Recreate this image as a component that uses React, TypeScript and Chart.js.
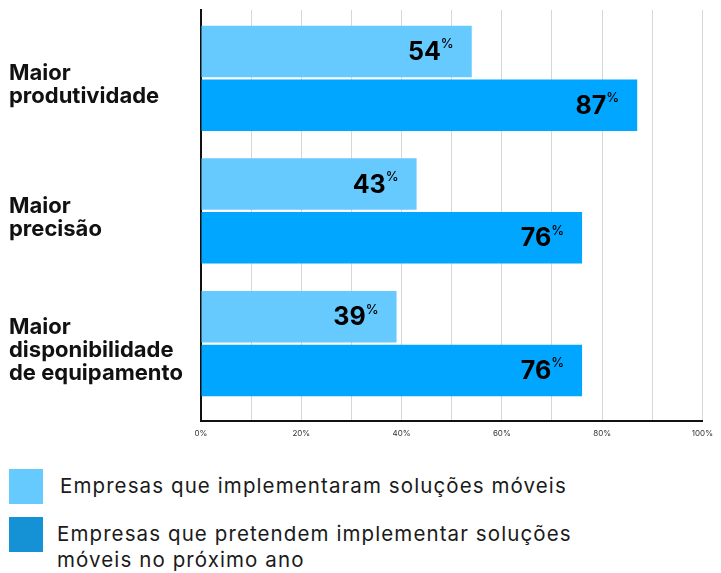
import React, { useEffect, useRef } from "react";
import { Chart, registerables } from "chart.js";

Chart.register(...registerables);

const categories: string[][] = [
  ["Maior", "produtividade"],
  ["Maior", "precisão"],
  ["Maior", "disponibilidade", "de equipamento"],
];
const implemented: number[] = [54, 43, 39];
const planned: number[] = [87, 76, 76];
const seriesNames: string[] = [
  "Empresas que implementaram soluções móveis",
  "Empresas que pretendem implementar soluções móveis no próximo ano",
];
const legendLines: string[][] = [
  ["Empresas que implementaram soluções móveis"],
  ["Empresas que pretendem implementar soluções", "móveis no próximo ano"],
];
const barColors = ["#66CAFF", "#00A6FF"];
const legendColors = ["#66CAFF", "#1592D6"];

const FONT = "Inter, 'Open Sans', sans-serif";

const valueLabels = {
  id: "valueLabels",
  afterDatasetsDraw(chart: any) {
    const ctx = chart.ctx;
    chart.data.datasets.forEach((ds: any, di: number) => {
      const meta = chart.getDatasetMeta(di);
      meta.data.forEach((bar: any, i: number) => {
        const v = ds.data[i].x;
        const num = String(v);
        ctx.save();
        ctx.fillStyle = "#000";
        ctx.textBaseline = "middle";
        ctx.textAlign = "right";
        ctx.font = `500 13px ${FONT}`;
        const pctW = ctx.measureText("%").width;
        const right = bar.x - 18;
        ctx.fillText("%", right, bar.y - 7);
        ctx.font = `700 25px ${FONT}`;
        ctx.fillText(num, right - pctW, bar.y + 1);
        ctx.restore();
      });
    });
  },
};

export default function App() {
  const canvasRef = useRef<HTMLCanvasElement | null>(null);

  useEffect(() => {
    if (!canvasRef.current) return;
    const chart = new Chart(canvasRef.current, {
      type: "bar",
      data: {
        datasets: [
          {
            label: seriesNames[0],
            data: implemented.map((v, i) => ({ x: v, y: i })) as any,
            backgroundColor: barColors[0],
          },
          {
            label: seriesNames[1],
            data: planned.map((v, i) => ({ x: v, y: i })) as any,
            backgroundColor: barColors[1],
          },
        ],
      },
      options: {
        indexAxis: "y",
        animation: false,
        responsive: true,
        maintainAspectRatio: false,
        layout: { padding: { left: 1, top: 2, right: 15, bottom: 1.5 } },
        datasets: {
          bar: { categoryPercentage: 0.81, barPercentage: 0.96 },
        },
        plugins: {
          legend: { display: false },
          tooltip: { enabled: false },
        },
        scales: {
          x: {
            type: "linear",
            min: 0,
            max: 100,
            grid: { color: "#d6d6d6", lineWidth: 1, drawTicks: false },
            border: { display: true, color: "#111", width: 2 },
            ticks: {
              stepSize: 10,
              autoSkip: false,
              maxRotation: 0,
              padding: 8,
              color: "#333",
              font: { size: 8, family: FONT },
              callback: (v: any) => (Number(v) % 20 === 0 ? `${v}%` : ""),
            },
          },
          y: {
            type: "linear",
            reverse: true,
            offset: false,
            bounds: "data",
            min: -0.515,
            max: 2.583,
            afterBuildTicks: (scale: any) => {
              scale.ticks = categories.map((_, i) => ({ value: i }));
            },
            afterFit: (scale: any) => {
              scale.width = 192;
              scale.paddingTop = 0;
              scale.paddingBottom = 0;
            },
            grid: { display: false, drawTicks: false, offset: false },
            border: { display: true, color: "#111", width: 2 },
            ticks: {
              crossAlign: "far",
              labelOffset: 7,
              padding: 0,
              color: "#111",
              font: { size: 22, weight: "bold", family: FONT, lineHeight: 1.05 },
              callback: (v: any) => categories[Number(v)] ?? "",
            },
          },
        },
      },
      plugins: [valueLabels],
    });
    return () => chart.destroy();
  }, []);

  return (
    <div style={{ width: 713, fontFamily: FONT }}>
      <div style={{ position: "relative", width: 713, height: 440 }}>
        <canvas ref={canvasRef} />
      </div>
      <div style={{ marginTop: 21, marginLeft: 1 }}>
        {legendLines.map((lines, i) => (
          <div
            key={i}
            style={{
              display: "flex",
              alignItems: "flex-start",
              marginBottom: 13,
            }}
          >
            <div
              style={{
                width: 34,
                height: 35,
                background: legendColors[i],
                flex: "0 0 auto",
              }}
            />
            <div
              style={{
                marginLeft: i === 0 ? 17 : 14,
                marginTop: 4,
                fontSize: 20.5,
                lineHeight: "26px",
                color: "#1a1a1a",
                letterSpacing: 1.1,
              }}
            >
              {lines.map((l, j) => (
                <div key={j}>{l}</div>
              ))}
            </div>
          </div>
        ))}
      </div>
    </div>
  );
}
